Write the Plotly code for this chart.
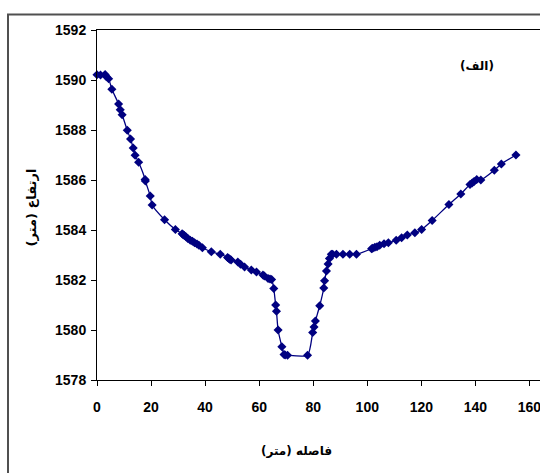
import plotly.graph_objects as go

# Distance (m) and elevation (m)
distance = [0.0, 1.3, 3.0, 3.4, 4.3, 5.5, 8.0, 8.6, 9.3, 11.2, 12.4, 13.4, 14.1, 15.4,
            17.8, 17.9, 19.7, 20.4, 25.0, 29.0, 31.5, 31.8, 32.3, 33.0, 33.6, 34.5,
            35.3, 36.1, 37.0, 37.7, 39.0, 42.3, 45.6, 48.3, 48.7, 49.1, 49.6, 52.1,
            53.1, 54.6, 57.1, 59.0, 61.4, 61.9, 63.3, 64.0, 64.6, 65.4, 66.1, 66.4,
            67.0, 68.4, 69.2, 69.6, 70.5, 77.9, 79.8, 80.3, 80.8, 82.4, 83.9, 84.2,
            84.9, 85.5, 86.0, 86.7, 87.2, 88.6, 91.0, 93.5, 96.0, 101.6, 102.0, 102.8,
            103.6, 104.6, 106.2, 107.8, 110.7, 112.7, 114.8, 117.6, 120.1, 124.0,
            130.2, 134.6, 138.0, 138.8, 139.5, 140.5, 142.0, 147.0, 149.6, 155.0]
elevation = [1590.21, 1590.20, 1590.22, 1590.14, 1590.05, 1589.63, 1589.04, 1588.81,
             1588.61, 1587.99, 1587.64, 1587.28, 1586.99, 1586.71, 1586.02, 1585.96,
             1585.36, 1585.00, 1584.41, 1584.02, 1583.85, 1583.82, 1583.78, 1583.72,
             1583.66, 1583.59, 1583.55, 1583.49, 1583.44, 1583.39, 1583.29, 1583.13,
             1583.03, 1582.90, 1582.87, 1582.83, 1582.80, 1582.72, 1582.63, 1582.52,
             1582.40, 1582.32, 1582.20, 1582.16, 1582.06, 1582.04, 1582.02, 1581.66,
             1581.00, 1580.75, 1580.00, 1579.33, 1579.02, 1579.00, 1578.99, 1578.99,
             1579.90, 1580.12, 1580.36, 1580.97, 1581.68, 1581.97, 1582.36, 1582.64,
             1582.86, 1583.03, 1583.03, 1583.03, 1583.03, 1583.03, 1583.03, 1583.25,
             1583.27, 1583.31, 1583.33, 1583.39, 1583.45, 1583.49, 1583.59, 1583.69,
             1583.80, 1583.89, 1584.02, 1584.38, 1585.02, 1585.44, 1585.82, 1585.88,
             1585.94, 1586.02, 1586.00, 1586.39, 1586.64, 1587.00]

x_ticks = [0, 20, 40, 60, 80, 100, 120, 140, 160]
y_ticks = [1578, 1580, 1582, 1584, 1586, 1588, 1590, 1592]

panel_label = "(الف)"
x_title = "فاصله (متر)"
y_title = "ارتفاع (متر)"

NAVY = "#000080"
num_font = dict(family="Liberation Sans Narrow, Arial Narrow, Liberation Sans, Arial",
                size=14, color="black", weight="bold")
ar_font = dict(family="DejaVu Sans, Noto Sans", size=12, color="black", weight="bold")
ar_font_y = dict(family="DejaVu Sans, Noto Sans", size=13, color="black", weight="bold")

fig = go.Figure()
fig.add_trace(go.Scatter(
    x=distance, y=elevation, mode="lines+markers",
    line=dict(color=NAVY, width=1.3, shape="spline", smoothing=0.6),
    marker=dict(symbol="diamond", size=7, color=NAVY, line=dict(width=0)),
    showlegend=False, hoverinfo="skip", cliponaxis=False))

fig.update_layout(
    width=540, height=473,
    margin=dict(l=97, r=0, t=30, b=93),
    paper_bgcolor="white", plot_bgcolor="white",
    xaxis=dict(range=[0, 163.9], tickvals=x_ticks, ticktext=[str(v) for v in x_ticks],
               showgrid=False, zeroline=False, showline=True, linecolor="black",
               linewidth=1, mirror=True, ticks="outside", ticklen=5, tickcolor="black",
               tickfont=num_font, ticklabelstandoff=9, ticklabeloverflow="allow"),
    yaxis=dict(range=[1578, 1592], tickvals=y_ticks, ticktext=[str(v) for v in y_ticks],
               showgrid=False, zeroline=False, showline=True, linecolor="black",
               linewidth=1, ticks="outside", ticklen=5, tickcolor="black",
               tickfont=num_font, ticklabelstandoff=2),
    shapes=[dict(type="rect", xref="paper", yref="paper",
                 x0=-0.2009, x1=1.3, y0=-0.6, y1=1.0443,
                 line=dict(color="#505050", width=2), fillcolor="rgba(0,0,0,0)",
                 layer="above")],
    annotations=[
        dict(text=panel_label, xref="paper", yref="paper", x=0.8588, y=0.8971,
             showarrow=False, font=ar_font, xanchor="center", yanchor="middle"),
        dict(text=x_title, xref="paper", yref="paper", x=0.4508, y=-0.2029,
             showarrow=False, font=ar_font, xanchor="center", yanchor="middle"),
        dict(text=y_title, xref="paper", yref="paper", x=-0.1458, y=0.4943,
             showarrow=False, font=ar_font_y, textangle=-90,
             xanchor="center", yanchor="middle"),
    ],
)

fig.write_html("out.html")
